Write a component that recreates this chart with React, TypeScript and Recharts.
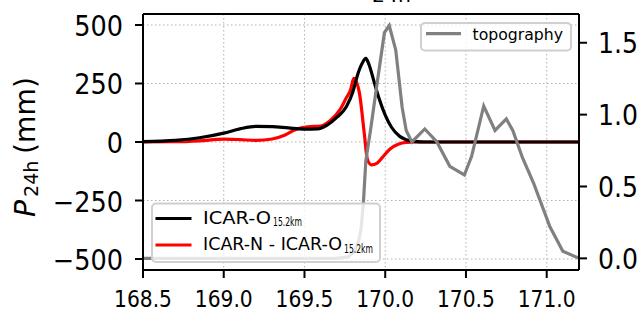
import React from 'react';
import { LineChart, Line, XAxis, YAxis, CartesianGrid, ReferenceLine } from 'recharts';

// ICAR-O (15.2 km) 24h precipitation (mm)
const lonO = [168.5, 168.7, 168.85, 169.0, 169.1, 169.2, 169.3, 169.4, 169.5, 169.58, 169.64, 169.7, 169.76, 169.8, 169.83, 169.86, 169.88, 169.9, 169.93, 169.96, 170.0, 170.04, 170.09, 170.13, 170.18, 170.25, 170.5, 171.0, 171.2];
const icarO = [2, 7, 18, 38, 56, 67, 66, 60, 55, 56, 72, 105, 152, 215, 290, 340, 357, 330, 260, 190, 115, 62, 24, 10, 3, 0, 0, 0, 0];

// ICAR-N minus ICAR-O (mm)
const lonDiff = [168.5, 168.7, 168.85, 169.0, 169.1, 169.2, 169.3, 169.38, 169.45, 169.52, 169.6, 169.66, 169.72, 169.76, 169.785, 169.805, 169.84, 169.87, 169.89, 169.915, 169.95, 169.98, 170.03, 170.08, 170.13, 170.2, 170.5, 171.0, 171.2];
const icarDiff = [0, 1, 5, 12, 10, 7, 13, 30, 55, 65, 68, 92, 138, 190, 222, 272, 210, 39, -76, -98, -90, -68, -30, -10, -2, 0, 0, 0, 0];

// topography (km)
const lonTopo = [168.5, 169.7, 169.77, 169.81, 169.835, 169.85, 169.865, 169.88, 169.91, 169.95, 169.995, 170.025, 170.065, 170.105, 170.13, 170.165, 170.245, 170.32, 170.4, 170.49, 170.535, 170.61, 170.68, 170.75, 170.79, 170.85, 170.92, 171.02, 171.1, 171.2];
const topo = [0, 0, 0.01, 0.05, 0.12, 0.2, 0.39, 0.68, 0.9, 1.22, 1.57, 1.62, 1.45, 1.05, 0.89, 0.81, 0.9, 0.81, 0.64, 0.58, 0.71, 1.06, 0.89, 0.97, 0.89, 0.7, 0.52, 0.22, 0.05, 0.0];

const xTicks = [168.5, 169.0, 169.5, 170.0, 170.5, 171.0];
const pTicks = [-500, -250, 0, 250, 500];
const topoTicks = [0, 0.5, 1.0, 1.5];

const legendMain = [
  { label: 'ICAR-O', sub: '15.2km', color: '#000000' },
  { label: 'ICAR-N - ICAR-O', sub: '15.2km', color: '#ff0000' },
];
const legendTopo = { label: 'topography', color: '#808080' };

const FONT = "'DejaVu Sans', 'Liberation Sans', sans-serif";

const rows = (xs: number[], ys: number[]) => xs.map((lon, i) => ({ lon, v: ys[i] }));

// approximate DejaVu Sans advance widths (em) for squeezed text
const charW = (c: string) => {
  if (c >= '0' && c <= '9') return 0.636;
  if (c === '.') return 0.318;
  if (c === '\u2212') return 0.838;
  return 0.6;
};
const textW = (s: string, fs: number, k: number) => s.split('').reduce((a, c) => a + charW(c), 0) * fs * k;

const fmtP = (v: number) => (v < 0 ? '\u2212' + Math.abs(v) : String(v));

const XTick = (props: any) => {
  const { x, y, payload } = props;
  const s = Number(payload.value).toFixed(1);
  return (
    <text x={x} y={y + 28.7} textAnchor="middle" fontFamily={FONT} fontSize={22.5} fill="#000"
      textLength={textW(s, 22.5, 0.9)} lengthAdjust="spacingAndGlyphs">{s}</text>
  );
};

const LTick = (props: any) => {
  const { x, y, payload } = props;
  const s = fmtP(Number(payload.value));
  return (
    <text x={x} y={y + 11} textAnchor="end" fontFamily={FONT} fontSize={27.5} fill="#000"
      textLength={textW(s, 27.5, 0.93)} lengthAdjust="spacingAndGlyphs">{s}</text>
  );
};

const RTick = (props: any) => {
  const { x, y, payload } = props;
  const s = Number(payload.value).toFixed(1);
  return (
    <text x={x} y={y + 10.5} textAnchor="start" fontFamily={FONT} fontSize={28} fill="#000"
      textLength={40} lengthAdjust="spacingAndGlyphs">{s}</text>
  );
};

export default function App() {
  const axisLine = { stroke: '#000', strokeWidth: 2 };
  const tickLine = { stroke: '#000', strokeWidth: 2 };
  return (
    <div style={{ position: 'absolute', left: 0, top: 0, width: 644, height: 311, background: '#fff' }}>
      <LineChart width={644} height={311} margin={{ top: 14, right: 0, bottom: 0, left: 0 }}>
        <CartesianGrid xAxisId="x" yAxisId="p" stroke="#b0b0b0" strokeWidth={1} strokeDasharray="1.5 2.5" />
        <XAxis xAxisId="x" type="number" dataKey="lon" domain={[168.5, 171.2]} allowDataOverflow
          ticks={xTicks} height={41} tickSize={8} tickMargin={0} axisLine={axisLine} tickLine={tickLine}
          tick={<XTick />} interval={0} />
        <YAxis yAxisId="p" orientation="left" type="number" domain={[-547, 547]} allowDataOverflow
          ticks={pTicks} width={143} tickSize={8} tickMargin={12} axisLine={axisLine} tickLine={tickLine}
          tick={<LTick />} interval={0} />
        <YAxis yAxisId="t" orientation="right" type="number" domain={[-0.081, 1.7]} allowDataOverflow
          ticks={topoTicks} width={65} tickSize={8} tickMargin={11} axisLine={axisLine} tickLine={tickLine}
          tick={<RTick />} interval={0} />
        <ReferenceLine xAxisId="x" yAxisId="p" y={547} stroke="#000" strokeWidth={2} />
        <Line xAxisId="x" yAxisId="p" data={rows(lonDiff, icarDiff)} dataKey="v" type="monotone"
          stroke="#ff0000" strokeWidth={3.2} dot={false} isAnimationActive={false} />
        <Line xAxisId="x" yAxisId="p" data={rows(lonO, icarO)} dataKey="v" type="monotone"
          stroke="#000000" strokeWidth={3.2} dot={false} isAnimationActive={false} />
        <Line xAxisId="x" yAxisId="t" data={rows(lonTopo, topo)} dataKey="v" type="linear"
          stroke="#808080" strokeWidth={3.2} dot={false} isAnimationActive={false} />
      </LineChart>
      <svg width={644} height={311} style={{ position: 'absolute', left: 0, top: 0, pointerEvents: 'none', overflow: 'hidden' }}>
        {/* title (mostly above the visible area) */}
        <text x={355} y={-5} fontFamily={FONT} fontSize={27} fontStyle="italic" fill="#000">P</text>
        <text x={372} y={2} fontFamily={FONT} fontSize={19} fill="#000" textLength={39} lengthAdjust="spacingAndGlyphs">24h</text>
        {/* y label */}
        <g transform="translate(34.5,217) rotate(-90)">
          <text x={0} y={0} fontFamily={FONT} fontSize={28} fontStyle="italic" fill="#000"
            textLength={17} lengthAdjust="spacingAndGlyphs">P</text>
          <text x={20} y={3} fontFamily={FONT} fontSize={19.5} fill="#000"
            textLength={36.5} lengthAdjust="spacingAndGlyphs">24h</text>
          <text x={63} y={0} fontFamily={FONT} fontSize={28} fill="#000"
            textLength={77} lengthAdjust="spacingAndGlyphs">(mm)</text>
        </g>
        {/* lower-left legend */}
        <rect x={152} y={203.5} width={228} height={58.5} rx={4} fill="#ffffff" fillOpacity={0.8} stroke="#d0d0d0" strokeWidth={2} />
        {legendMain.map((it, i) => {
          const ly = 218.5 + i * 26.5;
          const mainLen = i === 0 ? 68 : 139;
          return (
            <g key={it.label}>
              <line x1={155.5} x2={191.5} y1={ly} y2={ly} stroke={it.color} strokeWidth={3.2} />
              <text x={203} y={ly + 5} fontFamily={FONT} fontSize={18.5} fill="#000"
                textLength={mainLen} lengthAdjust="spacingAndGlyphs">{it.label}</text>
              <text x={203 + mainLen + 2} y={ly + 7.5} fontFamily={FONT} fontSize={12.5} fill="#000"
                textLength={29} lengthAdjust="spacingAndGlyphs">{it.sub}</text>
            </g>
          );
        })}
        {/* topography legend */}
        <rect x={421} y={23} width={150} height={27.5} rx={4} fill="#ffffff" fillOpacity={0.8} stroke="#d0d0d0" strokeWidth={2} />
        <line x1={426} x2={461} y1={33.7} y2={33.7} stroke={legendTopo.color} strokeWidth={3.2} />
        <text x={472.5} y={40} fontFamily={FONT} fontSize={15} fill="#000"
          textLength={90.5} lengthAdjust="spacingAndGlyphs">{legendTopo.label}</text>
      </svg>
    </div>
  );
}
